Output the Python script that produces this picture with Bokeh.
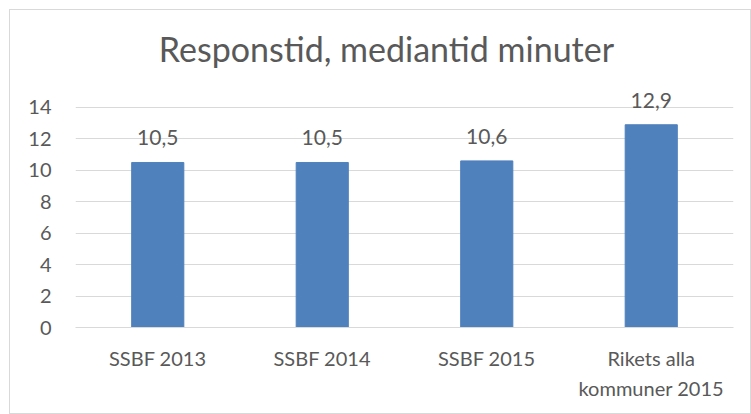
from bokeh.plotting import figure
from bokeh.models import Range1d, FixedTicker, ColumnDataSource, LabelSet, Label
from bokeh.core.properties import value
from bokeh.embed import file_html
from bokeh.resources import INLINE

categories = ["SSBF 2013", "SSBF 2014", "SSBF 2015", "Rikets alla\nkommuner 2015"]
values = [10.5, 10.5, 10.6, 12.9]
value_labels = ["10,5", "10,5", "10,6", "12,9"]
y_ticks = [0, 2, 4, 6, 8, 10, 12, 14]
title_text = "Responstid, mediantid minuter"

FONT = "Lato"
TXT = "#595959"
GRID = "#D9D9D9"
BAR = "#4F81BD"

xs = [i + 0.5 for i in range(len(categories))]

p = figure(width=742, height=405, output_backend="svg", toolbar_location=None,
           x_range=Range1d(0, len(categories)), y_range=Range1d(0, 20.17),
           min_border_left=65, min_border_right=19, min_border_top=0, min_border_bottom=88)
p.styles = {"border": "1px solid #D9D9D9", "margin-left": "9px", "margin-top": "9px"}
p.outline_line_color = None
p.background_fill_color = "white"
p.border_fill_color = "white"

src = ColumnDataSource(dict(x=xs, top=values, lab=value_labels))
p.vbar(x="x", top="top", width=0.317, bottom=0, source=src, fill_color=BAR, line_color=BAR)

p.xgrid.grid_line_color = None
p.ygrid.grid_line_color = GRID
p.ygrid.grid_line_width = 1
p.yaxis.ticker = FixedTicker(ticks=y_ticks)
p.xaxis.ticker = FixedTicker(ticks=xs)
p.xaxis.major_label_overrides = {x: c for x, c in zip(xs, categories)}

for ax in (p.xaxis, p.yaxis):
    ax.major_tick_line_color = None
    ax.minor_tick_line_color = None
    ax.major_label_text_font = FONT
    ax.major_label_text_font_size = "20px"
    ax.major_label_text_color = TXT
p.yaxis.axis_line_color = None
p.xaxis.axis_line_color = GRID
p.yaxis.major_label_standoff = 18
p.xaxis.major_label_standoff = 12
p.xaxis.major_label_text_line_height = 1.25

labels = LabelSet(x="x", y="top", text="lab", source=src, text_align="center",
                  text_baseline="alphabetic", y_offset=17, text_font=value(FONT),
                  text_font_size=value("21px"), text_color=value(TXT))
p.add_layout(labels)

title = Label(x=1.89, y=17.75, text=title_text, text_align="center", text_baseline="alphabetic",
              text_font=FONT, text_font_size="34px", text_color=TXT)
p.add_layout(title)

open("out.html", "w").write(file_html(p, INLINE))
